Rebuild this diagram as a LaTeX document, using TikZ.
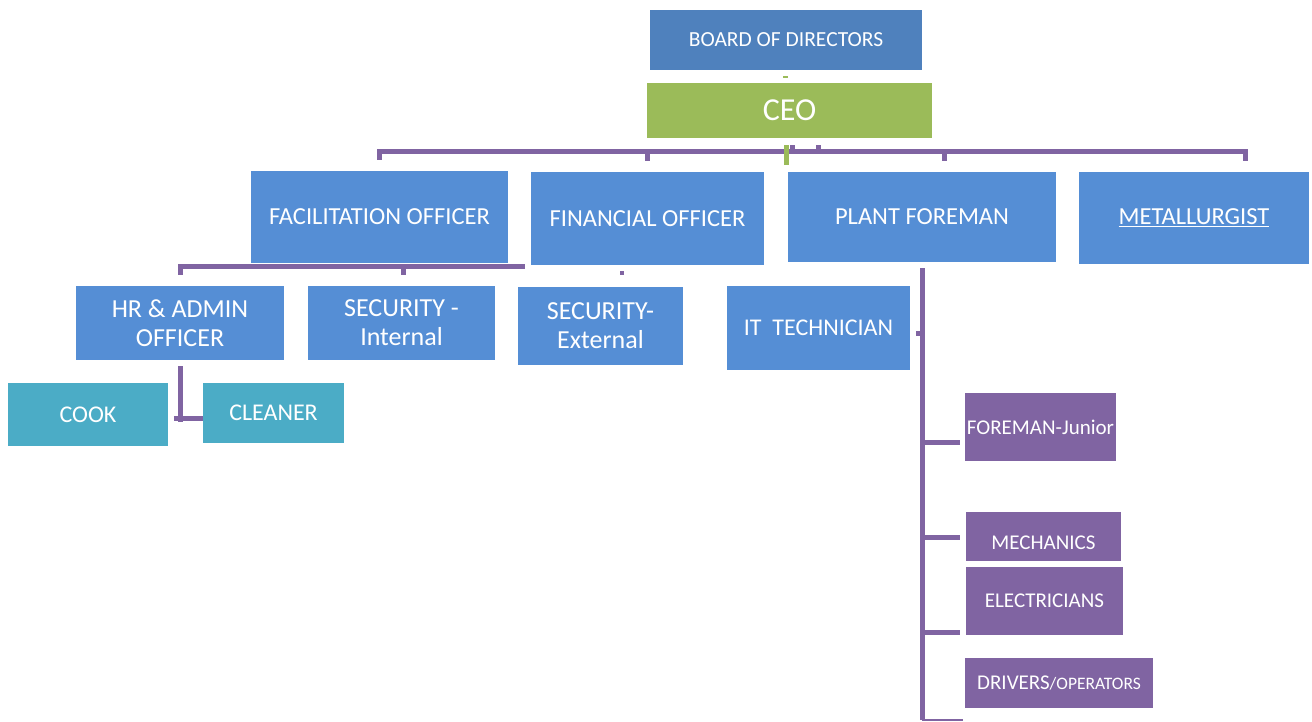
\documentclass[tikz,border=0pt]{standalone}
\usepackage{fontspec}
\setmainfont{Carlito}
\definecolor{boardblue}{HTML}{4F81BD}
\definecolor{ceogreen}{HTML}{9BBB59}
\definecolor{officeblue}{HTML}{558ED5}
\definecolor{staffteal}{HTML}{4BACC6}
\definecolor{linkpurple}{HTML}{8064A2}
\begin{document}
\begin{tikzpicture}[x=1pt, y=-1pt,
    box/.style={rectangle, fill=officeblue, text=white, inner sep=0pt, align=center, font=\fontsize{24.5}{29}\selectfont},
    staff/.style={box, fill=staffteal, font=\fontsize{24}{29}\selectfont},
    crew/.style={box, fill=linkpurple, font=\fontsize{21}{24}\selectfont},
    link/.style={draw=linkpurple, line width=5pt},
    greenlink/.style={draw=ceogreen, line width=5pt}]

    \useasboundingbox (0,0) rectangle (1312,722);

    % direction
    \node[box, fill=boardblue, minimum width=272pt, minimum height=60pt, font=\fontsize{21.5}{24}\selectfont] (board) at (786,40) {BOARD OF DIRECTORS};
    \node[box, fill=ceogreen, minimum width=285pt, minimum height=55pt, font=\fontsize{32}{36}\selectfont] (ceo) at (789.5,110.5) {CEO};

    % responsables
    \node[box, minimum width=257pt, minimum height=92pt] (fac) at (379.5,217) {FACILITATION OFFICER};
    \node[box, minimum width=233pt, minimum height=93pt] (fin) at (647.5,218.5) {FINANCIAL OFFICER};
    \node[box, minimum width=268pt, minimum height=90pt] (plant) at (922,217) {PLANT FOREMAN};
    \node[box, minimum width=230pt, minimum height=92pt] (metal) at (1194,218) {\underline{METALLURGIST}};

    % services
    \node[box, minimum width=208pt, minimum height=74pt, font=\fontsize{26}{29}\selectfont] (hr) at (180,323) {HR \& ADMIN\\OFFICER};
    \node[box, minimum width=187pt, minimum height=74pt, font=\fontsize{26}{29}\selectfont] (secint) at (401.5,323) {SECURITY -\\Internal};
    \node[box, minimum width=165pt, minimum height=78pt, font=\fontsize{26}{29}\selectfont] (secext) at (600.5,326) {SECURITY-\\External};
    \node[box, minimum width=183pt, minimum height=84pt, font=\fontsize{24}{29}\selectfont] (it) at (818.5,328) {IT\ \ TECHNICIAN};

    % personnel
    \node[staff, minimum width=160pt, minimum height=63pt] (cook) at (88,414.5) {COOK};
    \node[staff, minimum width=141pt, minimum height=60pt] (cleaner) at (273.5,413) {CLEANER};

    \node[crew, minimum width=151pt, minimum height=68pt] (fjun) at (1040.5,427) {FOREMAN-Junior};
    \node[crew, minimum width=155pt, minimum height=49pt] (mech) at (1043.5,536.5) {\raisebox{-6pt}[\height][\depth]{MECHANICS}};
    \node[crew, minimum width=157pt, minimum height=68pt] (elec) at (1044.5,601) {ELECTRICIANS};
    \node[crew, minimum width=188pt, minimum height=50pt] (drv) at (1059,683) {DRIVERS{\fontsize{17.5}{20}\selectfont/OPERATORS}};

    % liaisons du CEO
    \fill[ceogreen] ([xshift=-3pt, yshift=-6pt]board.south) rectangle ++(5,2);
    \draw[link] ([yshift=11pt]fac.north) |- ([xshift=51pt, yshift=20pt]metal.north) -- ++(0,9);
    \draw[link] ([yshift=20pt]fin.north) -- ++(0,9);
    \draw[link] ([xshift=22pt, yshift=20pt]plant.north) -- ++(0,9);
    \draw[link] ([xshift=2.5pt, yshift=-13pt]ceo.south) -- ++(0,-6);
    \draw[link] ([xshift=28.5pt, yshift=-13pt]ceo.south) -- ++(0,-6);
    \draw[greenlink] ([xshift=-3.5pt, yshift=-7pt]ceo.south) -- ++(0,20);

    % liaisons du facilitation officer
    \coordinate (facR) at (525,266);
    \draw[link] ([yshift=11pt]hr.north) |- (facR);
    \draw[link] ([xshift=1.5pt, yshift=11pt]secint.north) -- ++(0,-9);
    \fill[linkpurple] ([xshift=-27.5pt, yshift=-6pt]fin.south) rectangle ++(4,4);

    % liaisons du HR
    \draw[link] ([yshift=-6pt]hr.south) -- ++(0,56);
    \draw[link] ([xshift=-29pt, yshift=-5pt]cleaner.west) -- ++(29,0);

    % liaisons du plant foreman
    \coordinate (trunk) at (922,720);
    \draw[link] ([yshift=-6pt]plant.south) -- (trunk);
    \draw[draw=linkpurple, line width=2pt] (trunk) -- ([xshift=-2pt]trunk -| drv.west);
    \draw[link] ([xshift=6pt, yshift=-5pt]it.east) -- ++(6,0);
    \draw[link] ([xshift=-5pt, yshift=-15pt]fjun.west) -- ++(-38,0);
    \draw[link] ([xshift=-6pt, yshift=-0.5pt]mech.west) -- ++(-38,0);
    \draw[link] ([xshift=-6pt, yshift=-31pt]elec.west) -- ++(-38,0);
\end{tikzpicture}
\end{document}
